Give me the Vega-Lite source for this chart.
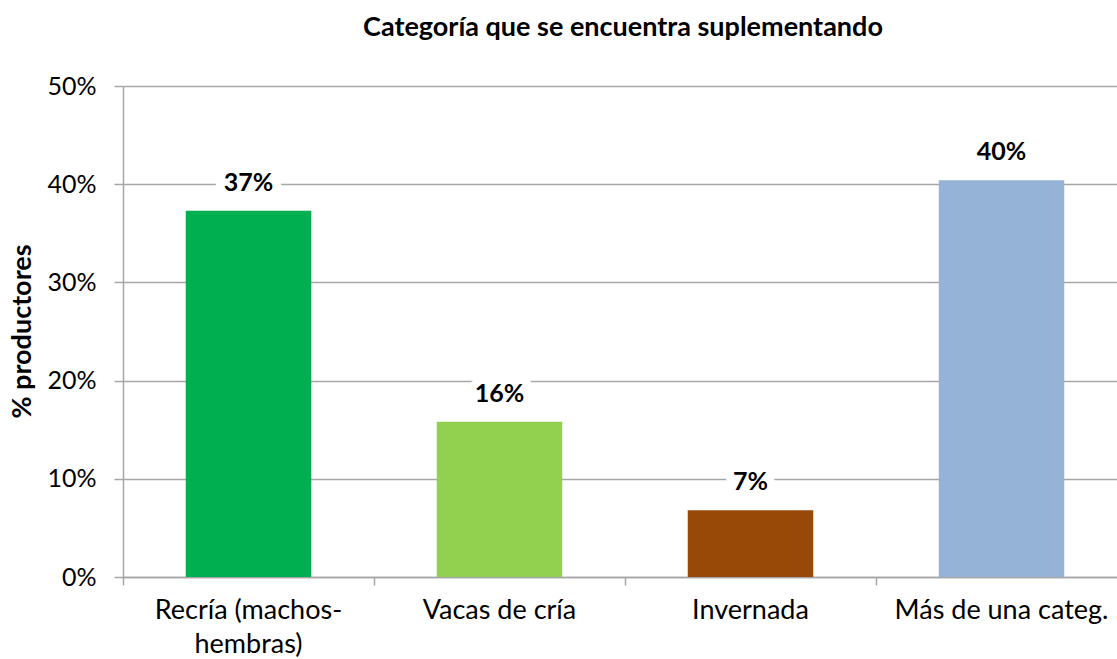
{
  "$schema": "https://vega.github.io/schema/vega-lite/v6.json",
  "width": 994,
  "height": 491,
  "autosize": {"type": "none"},
  "padding": {"left": 123, "top": 86, "right": 0, "bottom": 82},
  "background": "white",
  "title": {
    "text": "Categoría que se encuentra suplementando",
    "font": "Lato",
    "fontSize": 27,
    "fontWeight": "bold",
    "color": "#000000",
    "anchor": "middle",
    "offset": 32,
    "dx": 3
  },
  "config": {
    "view": {"stroke": null},
    "axis": {
      "labelFont": "Lato",
      "labelFontSize": 25,
      "labelColor": "#000000",
      "labelLimit": 0,
      "titleFont": "Lato",
      "titleFontSize": 27,
      "titleFontWeight": "bold",
      "titleColor": "#000000",
      "domainColor": "#A6A6A6",
      "domainWidth": 1.5,
      "tickColor": "#A6A6A6",
      "tickWidth": 1.5,
      "gridColor": "#A6A6A6",
      "gridWidth": 1.5
    }
  },
  "data": {
    "values": [
      {"categoria": "Recría (machos-hembras)", "valor": 0.373},
      {"categoria": "Vacas de cría", "valor": 0.158},
      {"categoria": "Invernada", "valor": 0.068},
      {"categoria": "Más de una categ.", "valor": 0.404}
    ]
  },
  "encoding": {
    "x": {
      "field": "categoria",
      "type": "nominal",
      "sort": null,
      "scale": {"range": [0, 1004], "paddingInner": 0, "paddingOuter": 0}
    },
    "y": {
      "field": "valor",
      "type": "quantitative",
      "scale": {"domain": [0, 0.5], "nice": false},
      "axis": {
        "title": "% productores",
        "values": [0, 0.1, 0.2, 0.3, 0.4, 0.5],
        "format": ".0%",
        "grid": true,
        "tickSize": 9,
        "labelPadding": 18,
        "titleX": -101,
        "titleY": 245,
        "titleBaseline": "middle",
        "titleAngle": -90
      }
    }
  },
  "layer": [
    {
      "mark": {"type": "bar", "width": {"band": 0.5}},
      "encoding": {
        "x": {
          "field": "categoria",
          "type": "nominal",
          "sort": null,
          "axis": {
            "title": null,
            "orient": "bottom",
            "labelAngle": 0,
            "labelFontSize": 27,
            "ticks": false,
            "domain": false,
            "labelPadding": 20,
            "labelLineHeight": 34,
            "labelExpr": "datum.label == 'Recría (machos-hembras)' ? ['Recría (machos-', 'hembras)'] : datum.label"
          }
        },
        "color": {
          "field": "categoria",
          "type": "nominal",
          "legend": null,
          "scale": {
            "domain": ["Recría (machos-hembras)", "Vacas de cría", "Invernada", "Más de una categ."],
            "range": ["#00B050", "#92D050", "#984807", "#95B3D7"]
          }
        }
      }
    },
    {
      "mark": {
        "type": "text",
        "font": "Lato",
        "fontSize": 25,
        "fontWeight": "bold",
        "baseline": "alphabetic",
        "dy": -19,
        "fill": "white",
        "stroke": "white",
        "strokeWidth": 18,
        "strokeJoin": "round"
      },
      "encoding": {
        "x": {
          "field": "categoria",
          "type": "nominal",
          "sort": null,
          "axis": {
            "title": null,
            "orient": "bottom",
            "labels": false,
            "ticks": true,
            "tickSize": 8,
            "domain": true,
            "bandPosition": 0
          }
        },
        "text": {"field": "valor", "type": "quantitative", "format": ".0%"}
      }
    },
    {
      "mark": {
        "type": "text",
        "font": "Lato",
        "fontSize": 25,
        "fontWeight": "bold",
        "baseline": "alphabetic",
        "dy": -20,
        "color": "#000000"
      },
      "encoding": {
        "x": {"field": "categoria", "type": "nominal", "sort": null, "axis": null},
        "text": {"field": "valor", "type": "quantitative", "format": ".0%"}
      }
    }
  ],
  "resolve": {"axis": {"x": "independent"}}
}
